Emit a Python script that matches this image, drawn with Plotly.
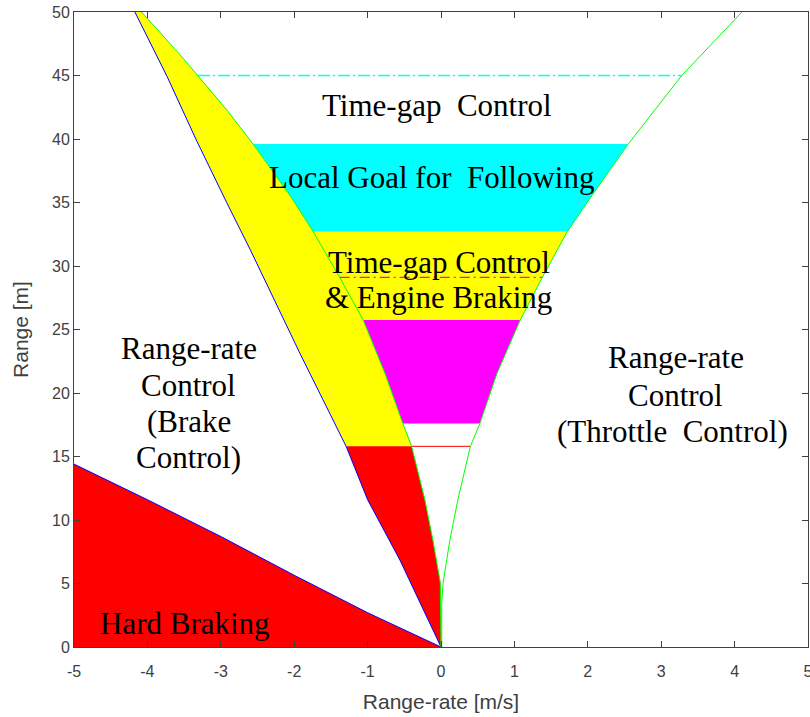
import numpy as np
import plotly.graph_objects as go

# ---------------- data ----------------
# hard-braking boundary (blue, lower left)
hard_x = [-5, -4, -3, -2, -1, 0]
hard_y = [14.4, 11.6, 8.7, 5.65, 2.7, 0]

# left blue boundary of the brake-control wedge
lb_y = [0, 6.85, 11.6, 15.77, 23.1, 31.3, 35, 40, 44.9, 50]
lb_x = [0, -0.56, -1.0, -1.29, -1.92, -2.60, -2.92, -3.34, -3.73, -4.17]

# left green boundary
lg_y = [0, 3.5, 5.1, 8.4, 11.6, 15.8, 17.6, 21.5, 25.75, 29.1, 32.7, 35.5, 39.6, 42.3, 45, 46.6, 50]
lg_x = [0, 0, -0.01, -0.11, -0.22, -0.40, -0.52, -0.76, -1.06, -1.38, -1.74, -2.05, -2.56, -2.92, -3.31, -3.55, -4.08]

# right green boundary
rg_y = [0, 3.5, 5.1, 8.4, 11.6, 15.8, 17.6, 21.5, 25.75, 29.1, 32.7, 35.5, 39.6, 42.3, 45, 50]
rg_x = [0.01, 0.01, 0.03, 0.12, 0.23, 0.40, 0.53, 0.76, 1.08, 1.38, 1.72, 2.05, 2.55, 2.92, 3.28, 4.10]

# horizontal band limits [m]
red_band = (0, 15.8)
magenta_band = (17.6, 25.75)
yellow_band = (25.75, 32.7)
cyan_band = (32.7, 39.6)
upper_yellow = (15.8, 50)

# level lines [m]
red_level = 15.8
magenta_level = 29.1
cyan_level = 45.0

x_ticks = [-5, -4, -3, -2, -1, 0, 1, 2, 3, 4, 5]
x_tick_text = ["-5", "-4", "-3", "-2", "-1", "0", "1", "2", "3", "4", "5"]
y_ticks = [0, 5, 10, 15, 20, 25, 30, 35, 40, 45, 50]
y_tick_text = ["0", "5", "10", "15", "20", "25", "30", "35", "40", "45", "50"]


def band_polygon(y0, y1, left, right):
    ly, lx = left
    ry, rx = right
    ys = sorted(set([y0, y1] + [v for v in list(ly) + list(ry) if y0 < v < y1]))
    ys = np.array(ys)
    xl = np.interp(ys, ly, lx)
    xr = np.interp(ys, ry, rx)
    px = np.concatenate([xl, xr[::-1], xl[:1]])
    py = np.concatenate([ys, ys[::-1], ys[:1]])
    return px, py


def level_line(level, left, right):
    xl = float(np.interp(level, left[0], left[1]))
    xr = float(np.interp(level, right[0], right[1]))
    return [xl, xr], [level, level]


LB = (lb_y, lb_x)
LG = (lg_y, lg_x)
RG = (rg_y, rg_x)

fig = go.Figure()


def add_fill(px, py, color):
    fig.add_trace(go.Scatter(x=px, y=py, mode="lines", fill="toself",
                             fillcolor=color, line=dict(width=0, color=color),
                             hoverinfo="skip", showlegend=False))


# hard braking region
add_fill(hard_x + [0, -5, -5], hard_y + [0, 0, hard_y[0]], "#ff0000")
# brake-control wedge
add_fill(*band_polygon(*upper_yellow, LB, LG), "#ffff00")
add_fill(*band_polygon(*red_band, LB, LG), "#ff0000")
# central bands
add_fill(*band_polygon(*cyan_band, LG, RG), "#00ffff")
add_fill(*band_polygon(*yellow_band, LG, RG), "#ffff00")
add_fill(*band_polygon(*magenta_band, LG, RG), "#ff00ff")

# level lines
lx, ly = level_line(red_level, LG, RG)
fig.add_trace(go.Scatter(x=lx, y=ly, mode="lines", line=dict(color="#ff0000", width=1),
                         hoverinfo="skip", showlegend=False))
lx, ly = level_line(magenta_level, LG, RG)
fig.add_trace(go.Scatter(x=lx, y=ly, mode="lines",
                         line=dict(color="#ff00ff", width=1.2, dash="10px,4px,2px,4px"),
                         hoverinfo="skip", showlegend=False))
lx, ly = level_line(cyan_level, LG, RG)
fig.add_trace(go.Scatter(x=lx, y=ly, mode="lines",
                         line=dict(color="#00ffff", width=1.6, dash="12px,3px,2px,3px"),
                         hoverinfo="skip", showlegend=False))

# boundary lines
fig.add_trace(go.Scatter(x=hard_x, y=hard_y, mode="lines", line=dict(color="#0000ff", width=1),
                         hoverinfo="skip", showlegend=False))
fig.add_trace(go.Scatter(x=lb_x, y=lb_y, mode="lines", line=dict(color="#0000ff", width=1),
                         hoverinfo="skip", showlegend=False))
fig.add_trace(go.Scatter(x=lg_x, y=lg_y, mode="lines", line=dict(color="#00ff00", width=1),
                         hoverinfo="skip", showlegend=False))
fig.add_trace(go.Scatter(x=rg_x, y=rg_y, mode="lines", line=dict(color="#00ff00", width=1),
                         hoverinfo="skip", showlegend=False))

serif = dict(family="Liberation Serif, Times New Roman, serif", size=31, color="black")
labels = [
    ("Time-gap\u00a0 Control", -0.06, 42.6),
    ("Local Goal for\u00a0 Following", -0.13, 37.0),
    ("Time-gap Control", -0.03, 30.3),
    ("& Engine Braking", -0.03, 27.5),
    ("Range-rate", -3.44, 23.54),
    ("Control", -3.44, 20.63),
    ("(Brake", -3.44, 17.72),
    ("Control)", -3.44, 14.96),
    ("Range-rate", 3.2, 22.83),
    ("Control", 3.2, 19.84),
    ("(Throttle\u00a0 Control)", 3.15, 16.93),
    ("Hard Braking", -3.49, 1.89),
]
for txt, x, y in labels:
    fig.add_annotation(x=x, y=y, xref="x", yref="y", text=txt, showarrow=False,
                       xanchor="center", yanchor="middle", font=serif)

axis_font = dict(family="Liberation Sans, Arial, sans-serif", size=16, color="#404040")
title_font = dict(family="Liberation Sans, Arial, sans-serif", size=21, color="#404040")

fig.update_xaxes(range=[-5, 5], tickvals=x_ticks, ticktext=x_tick_text, ticks="inside", ticklen=6,
                 tickcolor="#404040", showline=True, linecolor="#404040", linewidth=1,
                 mirror="allticks", showgrid=False, zeroline=False, automargin=False,
                 ticklabelstandoff=10, ticklabeloverflow="allow",
                 tickfont=axis_font, title=dict(text="Range-rate [m/s]", font=title_font, standoff=15))
fig.update_yaxes(range=[0, 50], tickvals=y_ticks, ticktext=y_tick_text, ticks="inside", ticklen=6,
                 tickcolor="#404040", showline=True, linecolor="#404040", linewidth=1,
                 mirror="allticks", showgrid=False, zeroline=False, automargin=False,
                 ticklabeloverflow="allow",
                 tickfont=axis_font, title=dict(text="Range [m]", font=title_font, standoff=17))

fig.update_layout(width=810, height=717, margin=dict(l=74, r=2, t=12, b=70),
                  plot_bgcolor="white", paper_bgcolor="white", showlegend=False)

fig.write_html("out.html", config={"displayModeBar": False},
               post_script="document.body.style.margin='0';")
